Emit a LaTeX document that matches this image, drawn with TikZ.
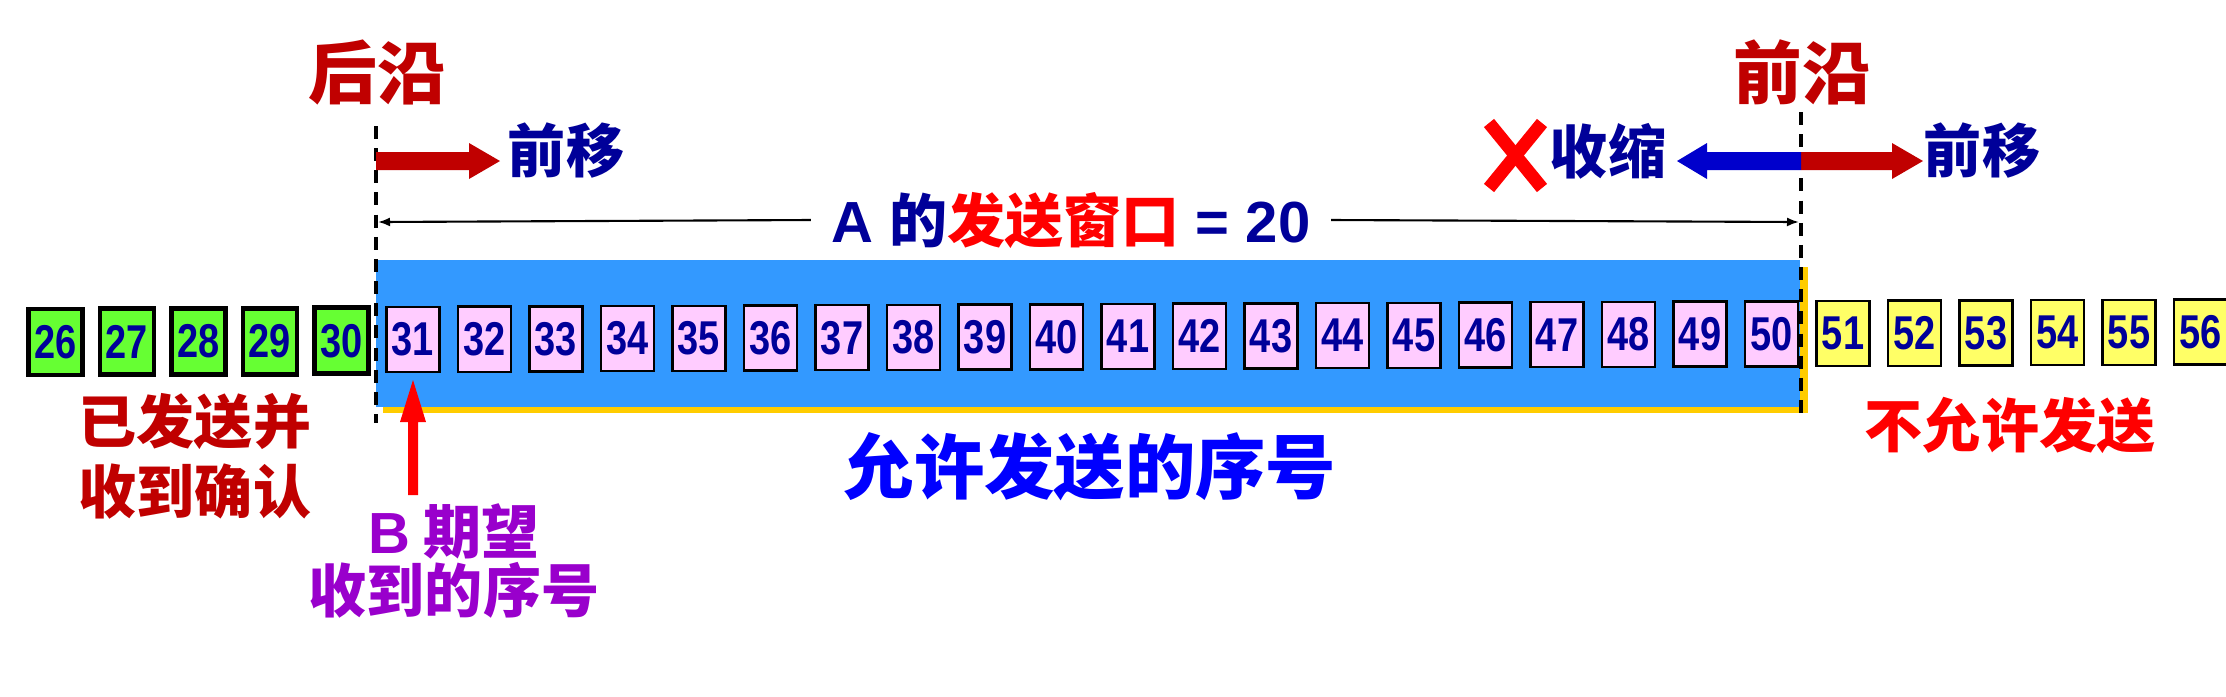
\documentclass[tikz,border=0pt]{standalone}
\usepackage{fontspec}
\usepackage{graphicx}
\setmainfont{Liberation Sans}
\newfontfamily\cjk{Noto Sans CJK SC}
\usetikzlibrary{arrows.meta}
\definecolor{navy}{HTML}{000099}
\definecolor{darkred}{HTML}{C00000}
\definecolor{winblue}{HTML}{3399FF}
\definecolor{shadowy}{HTML}{FFCC00}
\definecolor{gboxc}{HTML}{66FF33}
\definecolor{pboxc}{HTML}{FFCCFF}
\definecolor{yboxc}{HTML}{FFFF66}
\definecolor{purp}{HTML}{9900CC}
\definecolor{brightblue}{HTML}{0000FF}
\definecolor{arrblue}{HTML}{0000CC}
\definecolor{brightred}{HTML}{FF0000}
\tikzset{
  numbox/.style={draw=black, line width=0.7pt, minimum width=0.53cm, minimum height=0.65cm,
    inner sep=0pt, text=navy, font=\bfseries\fontsize{13.5}{14}\selectfont},
  gbox/.style={numbox, fill=gboxc, line width=1.4pt, minimum width=0.54cm, minimum height=0.66cm},
  pbox/.style={numbox, fill=pboxc},
  ybox/.style={numbox, fill=yboxc},
  lbl/.style={inner sep=0pt, font=\cjk\bfseries\fontsize{16.5}{17}\selectfont, align=center},
  bigl/.style={inner sep=0pt, font=\cjk\bfseries\fontsize{19.5}{20}\selectfont},
  edge/.style={line width=1.3pt, dash pattern=on 3.7pt off 2.6pt},
  dimline/.style={line width=0.6pt},
}
\begin{document}
\begin{tikzpicture}[x=0.01cm,y=-0.01cm]
\useasboundingbox (0,0) rectangle (2226,696);
% window band
\fill[shadowy] (383,267) rectangle (1808,413);
\fill[winblue] (376,260) rectangle (1800,407);
% boxes
\foreach \i in {26,...,30}
  \node[gbox] (b\i) at ({55.5+71.5*(\i-26)},{342-0.3*(\i-26)}) {\scalebox{0.8}[1]{\i}};
\foreach \i in {31,...,50}
  \node[pbox] (b\i) at ({55.5+71.5*(\i-26)},{341-0.3*(\i-26)}) {\scalebox{0.8}[1]{\i}};
\foreach \i in {51,...,56}
  \node[ybox] (b\i) at ({55.5+71.5*(\i-26)},{341-0.3*(\i-26)}) {\scalebox{0.8}[1]{\i}};
% dashed edges
\coordinate (LT) at (376,126); \coordinate (LB) at (376,423);
\coordinate (RT) at (1801,112); \coordinate (RB) at (1801,421);
\draw[edge] (LT) -- (LB);
\draw[edge] (RT) -- (RB);
% top labels
\node[bigl, text=darkred] (hy) at (377,72) {后沿};
\node[bigl, text=darkred] (qy) at (1802,72) {前沿};
\node[lbl, text=navy] (qyl) at (566,151) {前移};
\node[lbl, text=navy] (ss) at (1608,151) {收缩};
\node[lbl, text=navy] (qyr) at (1982,151) {前移};
% block arrows
\fill[darkred] (376,152) -- (469,152) -- (469,143) -- (500,161) -- (469,179) -- (469,170) -- (376,170) -- cycle;
\fill[darkred] (1801,152) -- (1892,152) -- (1892,143) -- (1923,161) -- (1892,179) -- (1892,170) -- (1801,170) -- cycle;
\fill[arrblue] (1801,152) -- (1707,152) -- (1707,143) -- (1677,161) -- (1707,179) -- (1707,170) -- (1801,170) -- cycle;
% red X
\draw[brightred, line width=3.7pt] (1489,123) -- (1542,188);
\draw[brightred, line width=3.7pt] (1542,123) -- (1489,188);
% dimension
\coordinate (LD) at (378,222); \coordinate (RD) at (1799,222);
\node[inner xsep=0.2cm, inner ysep=0pt, font=\bfseries\fontsize{16.5}{17}\selectfont, text=navy] (dim) at (1071,220)
  {A {\cjk 的}{\cjk\color{brightred}发送窗口} = 20};
\draw[dimline, -{Latex[length=0.12cm,width=0.09cm]}] (dim.west) -- (LD);
\draw[dimline, -{Latex[length=0.12cm,width=0.09cm]}] (dim.east) -- (RD);
% bottom labels
\node[lbl, text=darkred, font=\cjk\bfseries\fontsize{16.5}{19.9}\selectfont] (ack) at (195,456) {已发送并\\收到确认};
\node[lbl, text=brightblue, font=\cjk\bfseries\fontsize{20}{20}\selectfont] (allow) at (1090,467) {允许发送的序号};
\node[lbl, text=brightred] (deny) at (2010,425) {不允许发送};
\node[lbl, text=purp] (bexp) at (454,561) {{\fontspec{Liberation Sans}\bfseries B} 期望\\收到的序号};
% up arrow to 31
\fill[brightred] (408,495) -- (408,422) -- (400,422) -- (413,380) -- (426,422) -- (418,422) -- (418,495) -- cycle;
\end{tikzpicture}
\end{document}
